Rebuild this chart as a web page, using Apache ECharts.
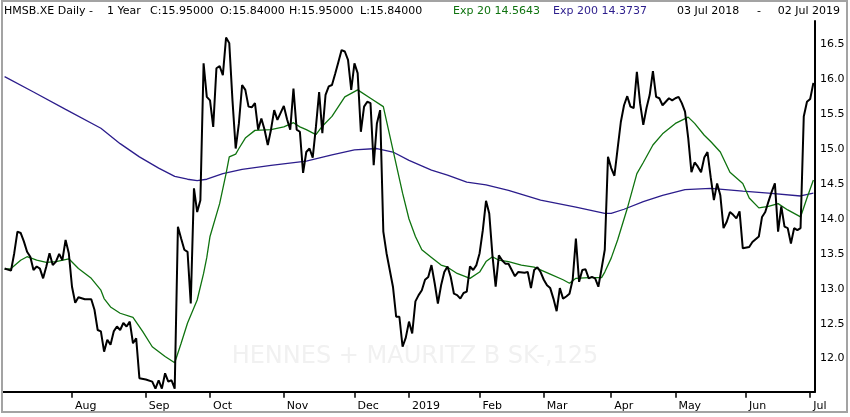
<!DOCTYPE html>
<html>
<head>
<meta charset="utf-8">
<script src="https://cdn.jsdelivr.net/npm/echarts@6.0.0/dist/echarts.min.js"></script>
<style>
html,body{margin:0;padding:0;background:#fff;}
#chart{width:850px;height:417px;}
</style>
</head>
<body>
<div id="chart"></div>
<script>
// ---- trading calendar (Xetra) ----
const startDate = '2018-07-03';
const endDate = '2019-07-02';
const holidays = ['2018-12-24','2018-12-25','2018-12-26','2018-12-31','2019-01-01','2019-04-19','2019-04-22','2019-05-01'];
const monthTickLabels = ['Aug','Sep','Oct','Nov','Dec','2019','Feb','Mar','Apr','May','Jun','Jul'];
const yTickValues = [12.0, 12.5, 13.0, 13.5, 14.0, 14.5, 15.0, 15.5, 16.0, 16.5];

// ---- series values: [trading-day index, price] ----
const closeSeries = [
[0,13.29],[2,13.26],[3,13.51],[4,13.82],[5,13.80],[6,13.68],[7,13.53],[8,13.46],[9,13.27],[10,13.32],
[11,13.29],[12,13.15],[13,13.32],[14,13.51],[15,13.34],[16,13.39],[17,13.50],[18,13.41],[19,13.70],[20,13.51],
[21,13.03],[22,12.80],[23,12.88],[25,12.85],[27,12.85],[28,12.70],[29,12.41],[30,12.39],[31,12.10],[32,12.27],
[33,12.20],[34,12.39],[35,12.46],[36,12.41],[37,12.51],[38,12.46],[39,12.53],[40,12.22],[41,12.29],[42,11.72],
[44,11.70],[46,11.67],[47,11.57],[48,11.69],[49,11.57],[50,11.79],[51,11.67],[52,11.69],[53,11.57],[54,13.89],
[55,13.72],[56,13.56],[57,13.53],[58,12.79],[59,14.44],[60,14.10],[61,14.27],[62,16.23],[63,15.75],[64,15.70],
[65,15.32],[66,16.16],[67,16.19],[68,16.06],[69,16.60],[70,16.52],[71,15.70],[72,15.01],[73,15.37],[74,15.92],
[75,15.85],[76,15.61],[77,15.60],[78,15.66],[79,15.28],[80,15.44],[81,15.28],[82,15.06],[83,15.28],[84,15.56],
[85,15.42],[86,15.52],[87,15.62],[88,15.43],[89,15.28],[90,15.87],[91,15.28],[92,15.25],[93,14.66],[94,14.96],
[95,15.01],[96,14.88],[97,15.32],[98,15.82],[99,15.23],[100,15.78],[101,15.90],[102,15.92],[103,16.08],[104,16.25],
[105,16.42],[106,16.40],[107,16.28],[108,15.85],[109,16.23],[110,16.09],[111,15.25],[112,15.61],[113,15.68],[114,15.66],
[115,14.77],[116,15.37],[117,15.56],[118,13.82],[119,13.51],[120,13.27],[121,13.03],[122,12.60],[123,12.60],[124,12.17],
[125,12.30],[126,12.53],[127,12.36],[128,12.82],[129,12.91],[130,12.98],[131,13.13],[132,13.17],[133,13.34],[134,13.08],
[135,12.79],[136,13.05],[137,13.24],[138,13.32],[139,13.17],[140,12.93],[141,12.91],[142,12.86],[143,12.94],[144,12.96],
[145,13.32],[146,13.27],[147,13.34],[148,13.51],[149,13.84],[150,14.26],[151,14.08],[152,13.48],[153,13.03],[154,13.48],
[155,13.41],[156,13.36],[157,13.36],[158,13.27],[159,13.18],[160,13.24],[162,13.23],[163,13.24],[164,13.01],[165,13.27],
[166,13.31],[167,13.24],[168,13.13],[169,13.05],[170,13.01],[171,12.86],[172,12.68],[173,13.01],[174,12.86],[175,12.89],
[176,12.93],[177,13.13],[178,13.72],[179,13.10],[180,13.27],[181,13.28],[182,13.15],[183,13.17],[184,13.15],[185,13.03],
[186,13.29],[187,13.56],[188,14.89],[189,14.73],[190,14.62],[191,15.01],[192,15.39],[193,15.63],[194,15.76],[195,15.61],
[196,15.59],[197,16.11],[198,15.66],[199,15.35],[200,15.59],[201,15.78],[202,16.12],[203,15.75],[204,15.73],[205,15.63],
[206,15.68],[207,15.73],[208,15.70],[209,15.73],[210,15.75],[211,15.66],[212,15.54],[213,15.16],[214,14.67],[215,14.81],
[216,14.75],[217,14.67],[218,14.88],[219,14.96],[220,14.60],[221,14.27],[222,14.51],[223,14.34],[224,13.87],[225,13.96],
[226,14.10],[227,14.06],[228,14.01],[229,14.11],[230,13.58],[232,13.60],[233,13.67],[235,13.75],[236,14.03],[237,14.10],
[238,14.25],[239,14.39],[240,14.51],[241,13.82],[242,14.18],[243,13.89],[244,13.87],[245,13.65],[246,13.87],[247,13.84],
[248,13.87],[249,15.47],[250,15.68],[251,15.72],[252,15.95]
];

const exp20Series = [
[0,13.28],[2,13.29],[5,13.41],[7,13.46],[10,13.41],[13,13.38],[16,13.39],[20,13.43],[23,13.29],[27,13.15],
[30,12.98],[31,12.86],[33,12.74],[36,12.65],[40,12.59],[43,12.39],[46,12.17],[50,12.03],[53,11.94],[55,12.22],
[57,12.51],[60,12.84],[62,13.22],[63,13.45],[64,13.75],[67,14.22],[69,14.65],[70,14.89],[72,14.93],[73,15.01],
[75,15.16],[78,15.27],[83,15.28],[87,15.32],[90,15.38],[92,15.32],[94,15.28],[97,15.21],[99,15.33],[102,15.47],
[106,15.75],[110,15.85],[114,15.73],[118,15.61],[121,14.99],[124,14.37],[126,14.00],[128,13.75],[130,13.56],[133,13.45],
[136,13.34],[138,13.31],[141,13.22],[145,13.15],[148,13.24],[150,13.39],[152,13.46],[154,13.41],[157,13.39],[161,13.34],
[165,13.31],[170,13.21],[174,13.13],[176,13.08],[178,13.15],[182,13.16],[186,13.16],[187,13.24],[189,13.44],[191,13.70],
[194,14.15],[197,14.65],[199,14.81],[202,15.06],[205,15.22],[209,15.37],[213,15.46],[215,15.37],[218,15.20],[220,15.11],
[223,14.96],[226,14.67],[230,14.51],[232,14.30],[235,14.16],[238,14.18],[241,14.22],[244,14.13],[248,14.03],[250,14.30],
[252,14.56]
];

const exp200Series = [
[0,16.04],[9,15.82],[19,15.57],[30,15.30],[36,15.08],[42,14.89],[48,14.73],[53,14.61],[57,14.57],[60,14.55],
[63,14.57],[68,14.65],[74,14.71],[83,14.77],[94,14.83],[102,14.92],[109,14.99],[116,15.01],[121,14.96],[126,14.84],
[133,14.70],[138,14.63],[144,14.53],[150,14.49],[157,14.41],[167,14.27],[178,14.17],[187,14.08],[189,14.08],[193,14.14],
[199,14.25],[205,14.34],[212,14.42],[220,14.44],[230,14.40],[238,14.37],[248,14.33],[252,14.37]
];

// ---- build category list of trading days ----
function buildDays(){
  const out = [];
  const d = new Date(startDate + 'T00:00:00Z');
  const e = new Date(endDate + 'T00:00:00Z');
  while (d <= e) {
    const wd = d.getUTCDay();
    const s = d.toISOString().slice(0,10);
    if (wd !== 0 && wd !== 6 && holidays.indexOf(s) < 0) out.push(s);
    d.setUTCDate(d.getUTCDate() + 1);
  }
  return out;
}
const days = buildDays();
const monthStartIdx = [];
for (let i = 1; i < days.length; i++) {
  if (days[i].slice(5,7) !== days[i-1].slice(5,7)) monthStartIdx.push(i);
}
const labelByIdx = {};
monthStartIdx.forEach((idx, k) => { labelByIdx[idx] = monthTickLabels[k]; });

const GREEN = '#0f730f';
const BLUE = '#2c1d8c';
const FONT = 'DejaVu Sans';

const yMin = 11.526, yMax = 16.837;

const chart = echarts.init(document.getElementById('chart'), null, {renderer: 'canvas'});
chart.setOption({
  animation: false,
  backgroundColor: '#ffffff',
  grid: {left: 3, right: 35, top: 21, bottom: 25.3, containLabel: false},
  xAxis: {
    type: 'category',
    data: days,
    boundaryGap: true,
    axisLine: {show: true, lineStyle: {color: '#000', width: 2}},
    axisTick: {
      show: true, alignWithLabel: true, length: 6, inside: false,
      interval: (i) => labelByIdx[i] !== undefined,
      lineStyle: {color: '#000', width: 1.5}
    },
    axisLabel: {
      show: true,
      interval: (i) => labelByIdx[i] !== undefined,
      formatter: (v, i) => labelByIdx[i] || '',
      align: 'left',
      padding: [0, 0, 0, 3],
      margin: 9,
      color: '#000',
      fontFamily: FONT,
      fontSize: 11
    },
    splitLine: {show: false}
  },
  yAxis: {
    type: 'value',
    position: 'right',
    min: yMin,
    max: yMax,
    axisLine: {show: true, lineStyle: {color: '#000', width: 2}},
    axisTick: {show: false},
    splitLine: {show: false},
    axisLabel: {
      customValues: yTickValues,
      formatter: (v) => Number(v).toFixed(1),
      margin: 5,
      color: '#000',
      fontFamily: FONT,
      fontSize: 11
    }
  },
  graphic: [
    {type: 'rect', z: 100, silent: true, shape: {x: 2, y: 1, width: 845, height: 411},
     style: {fill: 'none', stroke: '#a3a3a3', lineWidth: 2}},
    {type: 'text', z: 0, silent: true, x: 415, y: 357,
     style: {text: 'HENNES + MAURITZ B SK-,125', fill: '#f1f1f1', font: '24px "DejaVu Sans"', textAlign: 'center', textVerticalAlign: 'middle'}},
    {type: 'text', z: 100, x: 4, y: 11, style: {text: 'HMSB.XE Daily -', fill: '#000', font: '11px "DejaVu Sans"', textVerticalAlign: 'middle'}},
    {type: 'text', z: 100, x: 107, y: 11, style: {text: '1 Year', fill: '#000', font: '11px "DejaVu Sans"', textVerticalAlign: 'middle'}},
    {type: 'text', z: 100, x: 150, y: 11, style: {text: 'C:15.95000', fill: '#000', font: '11px "DejaVu Sans"', textVerticalAlign: 'middle'}},
    {type: 'text', z: 100, x: 220, y: 11, style: {text: 'O:15.84000', fill: '#000', font: '11px "DejaVu Sans"', textVerticalAlign: 'middle'}},
    {type: 'text', z: 100, x: 289, y: 11, style: {text: 'H:15.95000', fill: '#000', font: '11px "DejaVu Sans"', textVerticalAlign: 'middle'}},
    {type: 'text', z: 100, x: 360, y: 11, style: {text: 'L:15.84000', fill: '#000', font: '11px "DejaVu Sans"', textVerticalAlign: 'middle'}},
    {type: 'text', z: 100, x: 453, y: 11, style: {text: 'Exp 20 14.5643', fill: GREEN, font: '11px "DejaVu Sans"', textVerticalAlign: 'middle'}},
    {type: 'text', z: 100, x: 553, y: 11, style: {text: 'Exp 200 14.3737', fill: BLUE, font: '11px "DejaVu Sans"', textVerticalAlign: 'middle'}},
    {type: 'text', z: 100, x: 677, y: 11, style: {text: '03 Jul 2018', fill: '#000', font: '11px "DejaVu Sans"', textVerticalAlign: 'middle'}},
    {type: 'text', z: 100, x: 757, y: 11, style: {text: '-', fill: '#000', font: '11px "DejaVu Sans"', textVerticalAlign: 'middle'}},
    {type: 'text', z: 100, x: 840, y: 11, style: {text: '02 Jul 2019', fill: '#000', font: '11px "DejaVu Sans"', textAlign: 'right', textVerticalAlign: 'middle'}}
  ],
  series: [
    {name: 'Exp 200', type: 'line', data: exp200Series, symbol: 'none', smooth: false, z: 3,
     lineStyle: {color: BLUE, width: 1.3}},
    {name: 'Exp 20', type: 'line', data: exp20Series, symbol: 'none', smooth: false, z: 4,
     lineStyle: {color: GREEN, width: 1.3}},
    {name: 'Close', type: 'line', data: closeSeries, symbol: 'none', smooth: false, z: 5,
     lineStyle: {color: '#000', width: 2}}
  ]
});
</script>
</body>
</html>
